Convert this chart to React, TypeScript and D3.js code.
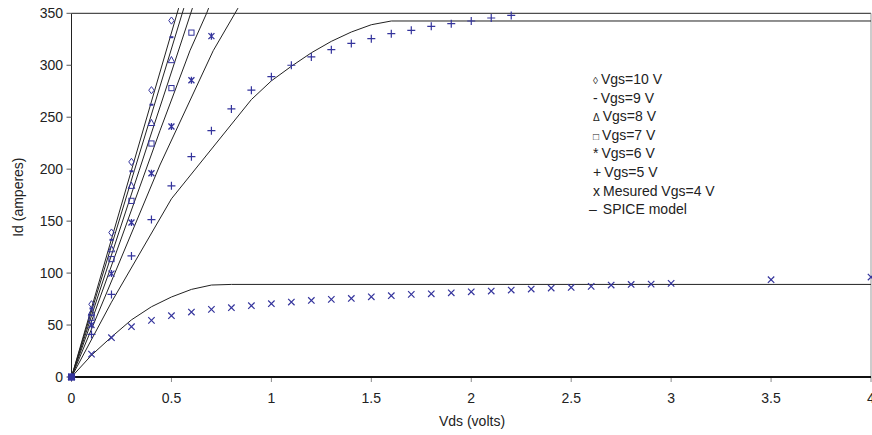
import React from 'react';
import * as d3 from 'd3';

// Measured points, Vds step 0.1 V starting at 0
const vds = [0, 0.1, 0.2, 0.3, 0.4, 0.5, 0.6, 0.7, 0.8, 0.9, 1.0, 1.1, 1.2, 1.3, 1.4, 1.5, 1.6, 1.7, 1.8, 1.9, 2.0, 2.1, 2.2, 2.3, 2.4, 2.5, 2.6, 2.7, 2.8, 2.9, 3.0];
const vds4 = [...vds, 3.5, 4.0];

const id10 = [0, 70, 139, 207, 276, 343];
const id9 = [0, 66, 132, 198, 262, 327];
const id8 = [0, 62, 123, 184, 244.5, 305];
const id7 = [0, 57, 113.5, 169.5, 224.7, 278, 331.4];
const id6 = [0, 50, 99.5, 148.7, 196, 241, 285.6, 328];
const id5 = [0, 41, 79.5, 116.5, 151.5, 184, 212, 237, 258, 276, 289, 300, 308, 315, 321, 325.6, 330.4, 333.6, 337.5, 340, 342.6, 345.5, 348];
const id4 = [0, 22, 37.8, 48.4, 54.5, 59, 62.5, 65.1, 66.7, 68.6, 70.5, 72.1, 73.7, 74.7, 75.6, 77.2, 78.2, 79.5, 80.1, 81, 82, 82.7, 83.7, 84.6, 85.6, 86.2, 87.2, 88.5, 89.1, 89.4, 90.1, 93.6, 96.2];

// SPICE model curves [Vds, Id]
const spice10: [number, number][] = [[0, 0], [0.3, 199], [0.536, 355]];
const spice9: [number, number][] = [[0, 0], [0.315, 199], [0.562, 355]];
const spice8: [number, number][] = [[0, 0], [0.339, 199], [0.605, 355]];
const spice7: [number, number][] = [[0, 0], [0.4425, 237], [0.5925, 314], [0.676, 350], [0.686, 355]];
const spice6: [number, number][] = [[0, 0], [0.4425, 204], [0.709, 314], [0.818, 350], [0.833, 355]];
const spice5: [number, number][] = [[0, 0], [0.2, 72], [0.5, 171.5], [0.9, 267], [1.0, 285], [1.1, 299], [1.2, 312], [1.3, 323], [1.4, 332], [1.5, 339], [1.6, 342.6], [4, 342.6]];
const spice4: [number, number][] = [[0, 0], [0.1, 21], [0.2, 38.5], [0.3, 55], [0.4, 67.6], [0.5, 77], [0.6, 84.3], [0.7, 88.5], [0.8, 89.1], [4, 89.1]];

const xTicks = [0, 0.5, 1, 1.5, 2, 2.5, 3, 3.5, 4];
const yTicks = [0, 50, 100, 150, 200, 250, 300, 350];

const legendItems = ['\u25CA', '-', '\u0394', '\u25A1', '*', '+', 'x'];
const legendLabels = ['Vgs=10 V', 'Vgs=9 V', 'Vgs=8 V', 'Vgs=7 V', 'Vgs=6 V', 'Vgs=5 V', 'Mesured Vgs=4 V'];

const W = 872;
const H = 435;
const BLUE = '#34349c';
const FONT = 'Arial, "Liberation Sans", Helvetica, sans-serif';

type Shape = 'diamond' | 'dash' | 'triangle' | 'square' | 'star' | 'plus' | 'cross';

const marker = (shape: Shape, cx: number, cy: number, key: string) => {
    const p = { stroke: BLUE, fill: 'none', strokeWidth: 1 };
    switch (shape) {
        case 'diamond':
            return <path key={key} {...p} d={`M${cx},${cy - 3.6}L${cx + 2.7},${cy}L${cx},${cy + 3.6}L${cx - 2.7},${cy}Z`} />;
        case 'dash':
            return <line key={key} {...p} strokeWidth={2} x1={cx - 2} x2={cx + 2} y1={cy} y2={cy} />;
        case 'triangle':
            return <path key={key} {...p} d={`M${cx},${cy - 3.6}L${cx + 3.3},${cy + 2.6}L${cx - 3.3},${cy + 2.6}Z`} />;
        case 'square':
            return <rect key={key} {...p} x={cx - 2.6} y={cy - 2.6} width={5.2} height={5.2} />;
        case 'star':
            return <path key={key} {...p} strokeWidth={1.3} d={`M${cx - 3},${cy - 3}L${cx + 3},${cy + 3}M${cx + 3},${cy - 3}L${cx - 3},${cy + 3}M${cx},${cy - 3.5}L${cx},${cy + 3.5}`} />;
        case 'plus':
            return <path key={key} {...p} strokeWidth={1.2} d={`M${cx - 4},${cy}L${cx + 4},${cy}M${cx},${cy - 4}L${cx},${cy + 4}`} />;
        case 'cross':
            return <path key={key} {...p} strokeWidth={1.2} d={`M${cx - 3.2},${cy - 3.2}L${cx + 3.2},${cy + 3.2}M${cx + 3.2},${cy - 3.2}L${cx - 3.2},${cy + 3.2}`} />;
    }
};

const App = () => {
    const x = d3.scaleLinear().domain([0, 4]).range([71.5, 871]);
    const y = d3.scaleLinear().domain([0, 350]).range([377, 13.3]);

    const line = d3.line<[number, number]>()
        .x(d => x(d[0]))
        .y(d => y(d[1]));

    const measured: { shape: Shape; ids: number[]; xs: number[] }[] = [
        { shape: 'cross', ids: id4, xs: vds4 },
        { shape: 'plus', ids: id5, xs: vds },
        { shape: 'star', ids: id6, xs: vds },
        { shape: 'square', ids: id7, xs: vds },
        { shape: 'triangle', ids: id8, xs: vds },
        { shape: 'dash', ids: id9, xs: vds },
        { shape: 'diamond', ids: id10, xs: vds },
    ];
    const spice = [spice4, spice5, spice6, spice7, spice8, spice9, spice10];

    return (
        <svg width={W} height={H} style={{ position: 'absolute', left: 0, top: 0, background: '#fff' }} fontFamily={FONT}>
            {/* frame */}
            <line x1={x(0)} x2={x(4)} y1={y(350)} y2={y(350)} stroke="#222" strokeWidth={1} />
            <line x1={x(4)} x2={x(4)} y1={y(350)} y2={y(0)} stroke="#999" strokeWidth={1} />
            <line x1={x(0)} x2={x(0)} y1={y(350)} y2={y(0)} stroke="#222" strokeWidth={1} />

            {/* y axis */}
            {yTicks.map(t => (
                <g key={'y' + t}>
                    <line x1={x(0) - 5} x2={x(0)} y1={y(t)} y2={y(t)} stroke="#555" />
                    <text x={63} y={y(t)} dy="0.36em" textAnchor="end" fontSize={14} fill="#222">{t}</text>
                </g>
            ))}
            <text transform={`translate(23,${y(175) + 2}) rotate(-90)`} textAnchor="middle" fontSize={14} fill="#222">Id (amperes)</text>

            {/* x axis */}
            {xTicks.map(t => (
                <g key={'x' + t}>
                    <line x1={x(t)} x2={x(t)} y1={y(0)} y2={y(0) + 5} stroke="#888" />
                    <text x={x(t)} y={403} textAnchor="middle" fontSize={14} fill="#222">{t}</text>
                </g>
            ))}
            <text x={472} y={426} textAnchor="middle" fontSize={14} fill="#222">Vds (volts)</text>

            {/* SPICE model */}
            {spice.map((s, i) => (
                <path key={'s' + i} d={line(s) ?? ''} fill="none" stroke="#222" strokeWidth={1} />
            ))}

            <line x1={x(0)} x2={x(4)} y1={y(0)} y2={y(0)} stroke="#111" strokeWidth={2.2} />

            {/* measured */}
            {measured.map(m => m.ids.map((v, i) => marker(m.shape, x(m.xs[i]), y(v), m.shape + i)))}
            <rect x={x(0) - 3.5} y={y(0) - 3.5} width={7} height={7} fill={BLUE} />

            {/* legend */}
            {legendItems.map((sym, i) => (
                <text key={'l' + i} x={593} y={84 + i * 18.6} fontSize={14} fill="#222">
                    <tspan fontSize={sym === '-' || sym === '*' || sym === '+' || sym === 'x' ? 14 : 10}>{sym}</tspan>
                    <tspan dx={3}>{legendLabels[i]}</tspan>
                </text>
            ))}
            <text x={589} y={84 + 7 * 18.6} fontSize={14} fill="#222">
                <tspan>{'\u2013'}</tspan>
                <tspan dx={6}>SPICE model</tspan>
            </text>
        </svg>
    );
};

export default App;
